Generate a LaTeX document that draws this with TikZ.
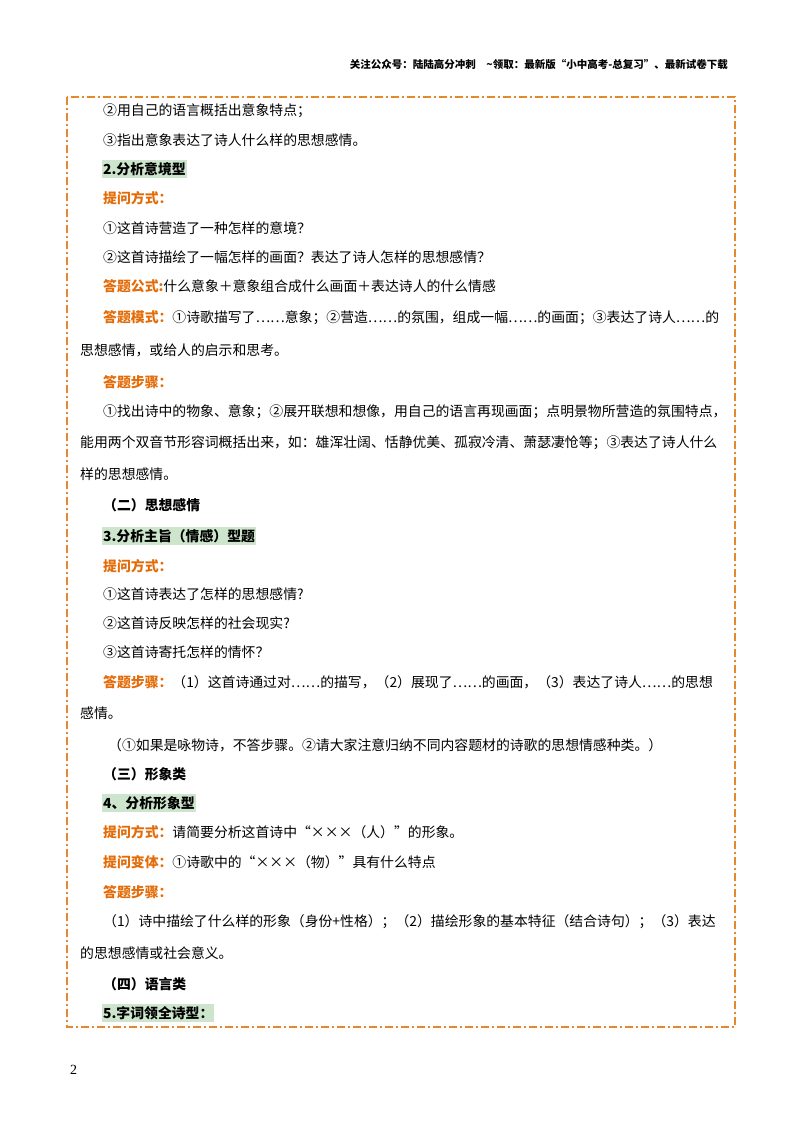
\documentclass[tikz,border=0pt]{standalone}
\usepackage{fontspec}
\setmainfont{Liberation Serif}
\newfontfamily\cjk{Noto Sans CJK SC}
\definecolor{og}{HTML}{E8862E}
\definecolor{lab}{HTML}{E36C09}
\definecolor{hl}{HTML}{CDE5CC}
\begin{document}
\begin{tikzpicture}[x=1pt,y=-1pt,
  t/.style={anchor=west,inner sep=0pt,font=\cjk\fontsize{13.85}{14}\selectfont},
  lb/.style={t,text=lab,font=\cjk\bfseries\fontsize{13.85}{14}\selectfont},
  hd/.style={t,font=\cjk\bfseries\fontsize{13.85}{14}\selectfont,fill=hl,inner xsep=1pt,inner ysep=2pt}]
\useasboundingbox (0,0) rectangle (800,1132);
\node[anchor=east,inner sep=0pt,font=\cjk\bfseries\fontsize{10.5}{11}\selectfont] (hdr) at (728,65) {关注公众号：陆陆高分冲刺\quad\textasciitilde 领取：最新版“小中高考-总复习”、最新试卷下载};
\draw[og,line width=1.6pt,dash pattern=on 8pt off 3pt on 2pt off 3pt] (67,97) rectangle (735,1027);
\node[t] (l1) at (103,111) {②用自己的语言概括出意象特点；};
\node[t] (l2) at (103,140) {③指出意象表达了诗人什么样的思想感情。};
\node[hd] (l3) at (102,169) {2.分析意境型};
\node[lb] (l4) at (103,198) {提问方式：};
\node[t] (l5) at (103,228) {①这首诗营造了一种怎样的意境？};
\node[t] (l6) at (103,257) {②这首诗描绘了一幅怎样的画面？表达了诗人怎样的思想感情？};
\node[t] (l7) at (103,286) {\textcolor{lab}{\bfseries 答题公式:}什么意象＋意象组合成什么画面＋表达诗人的什么情感};
\node[t] (l8) at (103,318) {\textcolor{lab}{\bfseries 答题模式：}①诗歌描写了……意象；②营造……的氛围，组成一幅……的画面；③表达了诗人……的};
\node[t] (l9) at (80,350) {思想感情，或给人的启示和思考。};
\node[lb] (l10) at (103,382) {答题步骤：};
\node[t] (l11) at (103,412) {①找出诗中的物象、意象；②展开联想和想像，用自己的语言再现画面；点明景物所营造的氛围特点，};
\node[t] (l12) at (80,443) {能用两个双音节形容词概括出来，如：雄浑壮阔、恬静优美、孤寂冷清、萧瑟凄怆等；③表达了诗人什么};
\node[t] (l13) at (80,474) {样的思想感情。};
\node[t,font=\cjk\bfseries\fontsize{13.85}{14}\selectfont] (l14) at (103,505) {（二）思想感情};
\node[hd] (l15) at (102,536) {3.分析主旨（情感）型题};
\node[lb] (l16) at (103,566) {提问方式：};
\node[t] (l17) at (103,594) {①这首诗表达了怎样的思想感情?};
\node[t] (l18) at (103,623) {②这首诗反映怎样的社会现实?};
\node[t] (l19) at (103,652) {③这首诗寄托怎样的情怀？};
\node[t] (l20) at (103,682) {\textcolor{lab}{\bfseries 答题步骤：}（1）这首诗通过对……的描写，（2）展现了……的画面，（3）表达了诗人……的思想};
\node[t] (l21) at (80,713) {感情。};
\node[t] (l22) at (108,745) {（①如果是咏物诗，不答步骤。②请大家注意归纳不同内容题材的诗歌的思想情感种类。）};
\node[t,font=\cjk\bfseries\fontsize{13.85}{14}\selectfont] (l23) at (103,774) {（三）形象类};
\node[hd] (l24) at (102,803) {4、分析形象型};
\node[t] (l25) at (103,832) {\textcolor{lab}{\bfseries 提问方式：}请简要分析这首诗中“×××（人）”的形象。};
\node[t] (l26) at (103,862) {\textcolor{lab}{\bfseries 提问变体：}①诗歌中的“×××（物）”具有什么特点};
\node[lb] (l27) at (103,892) {答题步骤：};
\node[t] (l28) at (103,922) {（1）诗中描绘了什么样的形象（身份+性格）；（2）描绘形象的基本特征（结合诗句）；（3）表达};
\node[t] (l29) at (80,953) {的思想感情或社会意义。};
\node[t,font=\cjk\bfseries\fontsize{13.85}{14}\selectfont] (l30) at (103,984) {（四）语言类};
\node[hd] (l31) at (102,1013) {5.字词领全诗型：};
\node[anchor=west,inner sep=0pt,font=\fontsize{14}{16}\selectfont] (pg) at (70,1070) {2};
\end{tikzpicture}
\end{document}
